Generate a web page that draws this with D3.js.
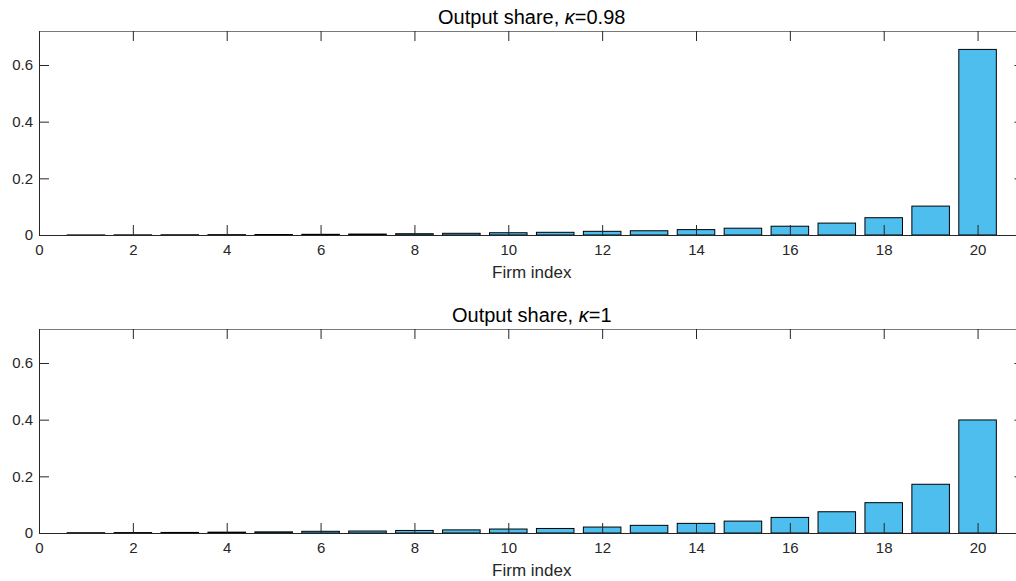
<!DOCTYPE html>
<html>
<head>
<meta charset="utf-8">
<script src="https://cdn.jsdelivr.net/npm/d3@7"></script>
<style>
  html, body { margin: 0; padding: 0; background: #fff; }
  svg { display: block; font-family: "Liberation Sans", Arial, Helvetica, sans-serif; }
</style>
</head>
<body>
<svg id="chart" width="1016" height="581"></svg>
<script>
// ---- data ----
const firms = [1,2,3,4,5,6,7,8,9,10,11,12,13,14,15,16,17,18,19,20];
const shareKappa098 = [0.0003,0.0005,0.0008,0.0012,0.0017,0.0024,0.0033,0.0045,0.006,0.008,0.0095,0.013,0.015,0.019,0.024,0.031,0.042,0.061,0.102,0.655];
const shareKappa1 = [0.001,0.0015,0.002,0.003,0.004,0.006,0.007,0.009,0.011,0.014,0.016,0.021,0.027,0.034,0.042,0.055,0.075,0.107,0.172,0.399];
const kappaLabels = ["0.98", "1"];
const xTicks = [0,2,4,6,8,10,12,14,16,18,20];
const xTickLabels = ["0","2","4","6","8","10","12","14","16","18","20"];
const yTicks = [0,0.2,0.4,0.6];
const yTickLabels = ["0","0.2","0.4","0.6"];
const xLabel = "Firm index";
const titlePrefix = "Output share, ";

// ---- layout ----
const svg = d3.select("#chart");
const axisColor = "#262626";
const barColor = "#4DBEEE";
const left = 39, right = 1024.5;
const panels = [
  { top: 31, bottom: 235, values: shareKappa098, kappa: kappaLabels[0] },
  { top: 329, bottom: 533, values: shareKappa1, kappa: kappaLabels[1] }
];

panels.forEach(p => {
  const x = d3.scaleLinear().domain([0, 21]).range([left, right]);
  const y = d3.scaleLinear().domain([0, 0.72]).range([p.bottom, p.top]);
  const g = svg.append("g");

  // bars
  g.append("g").selectAll("rect")
    .data(firms.map((f, i) => ({ f, v: p.values[i] })))
    .join("rect")
    .attr("x", d => x(d.f - 0.4))
    .attr("width", d => x(d.f + 0.4) - x(d.f - 0.4))
    .attr("y", d => y(d.v))
    .attr("height", d => y(0) - y(d.v))
    .attr("fill", barColor)
    .attr("stroke", "#000")
    .attr("stroke-width", 1);

  // bottom axis
  const xb = g.append("g").attr("transform", `translate(0,${p.bottom})`)
    .call(d3.axisBottom(x).tickValues(xTicks).tickFormat((d, i) => xTickLabels[i])
      .tickSize(-10).tickSizeOuter(0).tickPadding(9.5));
  // top axis
  const xt = g.append("g").attr("transform", `translate(0,${p.top})`)
    .call(d3.axisTop(x).tickValues(xTicks).tickFormat("")
      .tickSize(-10).tickSizeOuter(0));
  // left axis
  const yl = g.append("g").attr("transform", `translate(${left},0)`)
    .call(d3.axisLeft(y).tickValues(yTicks).tickFormat((d, i) => yTickLabels[i])
      .tickSize(-10).tickSizeOuter(0).tickPadding(6));
  // right axis
  const yr = g.append("g").attr("transform", `translate(${right},0)`)
    .call(d3.axisRight(y).tickValues(yTicks).tickFormat("")
      .tickSize(-10).tickSizeOuter(0));

  [xb, xt, yl, yr].forEach(a => {
    a.selectAll("path.domain").attr("stroke", axisColor).attr("stroke-width", 1);
    a.selectAll(".tick line").attr("stroke", axisColor).attr("stroke-width", 1);
    a.selectAll(".tick text").attr("fill", axisColor)
      .style("font-size", "15px")
      .style("font-family", '"Liberation Sans", Arial, Helvetica, sans-serif');
  });
  xt.selectAll("path.domain").attr("stroke", "#7a7a7a");
  yr.selectAll("path.domain").attr("stroke", "#7a7a7a");

  // title
  const t = g.append("text")
    .attr("x", (left + right) / 2)
    .attr("y", p.top - 7.5)
    .attr("text-anchor", "middle")
    .attr("fill", "#000")
    .style("font-size", "20px");
  t.append("tspan").text(titlePrefix);
  t.append("tspan").attr("font-style", "italic").text("\u03BA");
  t.append("tspan").text("=" + p.kappa);

  // x label
  g.append("text")
    .attr("x", (left + right) / 2)
    .attr("y", p.bottom + 43)
    .attr("text-anchor", "middle")
    .attr("fill", axisColor)
    .style("font-size", "17px")
    .text(xLabel);
});
</script>
</body>
</html>
